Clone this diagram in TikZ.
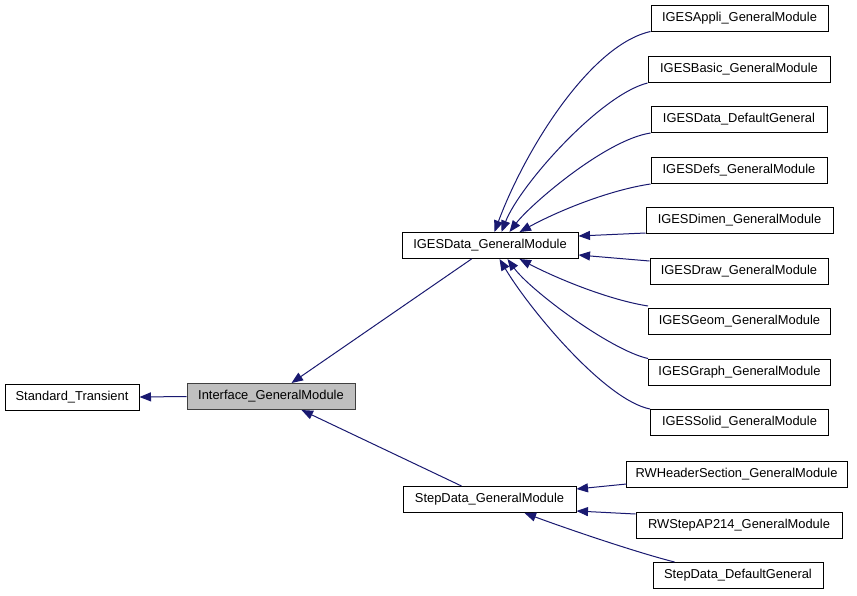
\documentclass[tikz,border=0pt]{standalone}
\usepackage{fontspec}
\setmainfont{Liberation Sans}
\usetikzlibrary{arrows.meta,calc}
\definecolor{edgeblue}{HTML}{191970}
\definecolor{curfill}{HTML}{BFBFBF}
\begin{document}
\begin{tikzpicture}[x=1pt,y=-1pt,
  cls/.style={draw=black,line width=1pt,fill=white,minimum height=26pt,inner sep=0pt,
    font=\fontsize{12.9}{15}\selectfont},
  cur/.style={cls,fill=curfill,draw=black!75},
  edge/.style={draw=edgeblue,line width=1pt,-{Triangle[length=11.5pt,width=9pt]}}]
\useasboundingbox (0,0) rectangle (857,595);
% nodes
\node[cls,minimum width=134pt] (std) at (72,397) {Standard\_Transient};
\node[cur,minimum width=168pt] (iface) at (271,396.5) {Interface\_GeneralModule};
\node[cls,minimum width=176pt] (igesdata) at (490,245.5) {IGESData\_GeneralModule};
\node[cls,minimum width=173pt] (stepdata) at (489.5,499.5) {StepData\_GeneralModule};
\node[cls,minimum width=177pt] (appli) at (739.5,18) {IGESAppli\_GeneralModule};
\node[cls,minimum width=182pt] (basic) at (739,69.5) {IGESBasic\_GeneralModule};
\node[cls,minimum width=176pt] (ddef) at (739,119.5) {IGESData\_DefaultGeneral};
\node[cls,minimum width=176pt] (defs) at (739,170.5) {IGESDefs\_GeneralModule};
\node[cls,minimum width=187pt] (dimen) at (739.5,220.5) {IGESDimen\_GeneralModule};
\node[cls,minimum width=178pt] (drw) at (739,271.5) {IGESDraw\_GeneralModule};
\node[cls,minimum width=182pt] (geom) at (739.5,321.5) {IGESGeom\_GeneralModule};
\node[cls,minimum width=182pt] (graph) at (739.5,372) {IGESGraph\_GeneralModule};
\node[cls,minimum width=178pt] (solid) at (739.5,422.5) {IGESSolid\_GeneralModule};
\node[cls,minimum width=221pt] (rwheader) at (736.5,474.5) {RWHeaderSection\_GeneralModule};
\node[cls,minimum width=206pt] (rwstep) at (739,525.5) {RWStepAP214\_GeneralModule};
\node[cls,minimum width=170pt] (sdef) at (738,575.5) {StepData\_DefaultGeneral};
% edges
\draw[edge] (iface.west) -- (std.east);
\draw[edge] ($(igesdata.south west)+(70,0)$) -- ($(iface.north west)+(105,0)$);
\draw[edge] ($(stepdata.north west)+(59,0)$) -- ($(iface.south west)+(115,0)$);
\draw[edge] (appli.south west) .. controls (590,45) and (525,150) .. ($(igesdata.north west)+(93,0)$);
\draw[edge] (basic.south west) .. controls (600,95) and (520,185) .. ($(igesdata.north west)+(100,0)$);
\draw[edge] (ddef.south west) .. controls (605,140) and (530,205) .. ($(igesdata.north west)+(108,0)$);
\draw[edge] (defs.south west) .. controls (610,190) and (560,210) .. ($(igesdata.north west)+(118,0)$);
\draw[edge] ($(dimen.south west)+(0,-1)$) -- ($(igesdata.north east)+(0,4)$);
\draw[edge] ($(drw.north west)+(0,3)$) -- ($(igesdata.north east)+(0,23)$);
\draw[edge] ($(geom.north west)+(0,-2)$) .. controls (610,300) and (560,280) .. ($(igesdata.south west)+(118,0)$);
\draw[edge] (graph.north west) .. controls (610,350) and (530,290) .. ($(igesdata.south west)+(106,0)$);
\draw[edge] (solid.north west) .. controls (605,400) and (530,310) .. ($(igesdata.south west)+(98,0)$);
\draw[edge] ($(rwheader.south west)+(1,-4)$) -- ($(stepdata.north east)+(0,3)$);
\draw[edge] ($(rwstep.north west)+(0,2)$) -- ($(stepdata.south east)+(0,-2)$);
\draw[edge] ($(sdef.north west)+(22,0)$) .. controls (635,552) and (565,528) .. ($(stepdata.south west)+(122,0)$);
\end{tikzpicture}
\end{document}
